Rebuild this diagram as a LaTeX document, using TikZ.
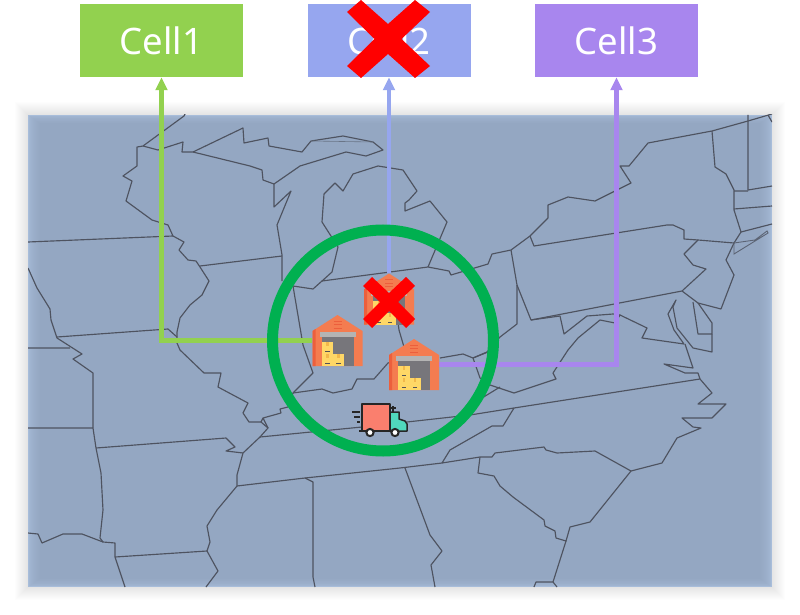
\documentclass[tikz,border=0pt]{standalone}
\usepackage{fontspec}
\setmainfont{Noto Sans}
\usetikzlibrary{arrows.meta}
\definecolor{cgreen}{HTML}{92D14F}
\definecolor{cblue}{HTML}{96A6EF}
\definecolor{cpurple}{HTML}{A886EE}
\definecolor{ring}{HTML}{00B050}
\definecolor{mapin}{HTML}{94A7C2}
\definecolor{mapout}{HTML}{A8BDDA}
\definecolor{border}{HTML}{4E5360}
\definecolor{house}{HTML}{F47C50}
\definecolor{housed}{HTML}{EC5F3C}
\definecolor{door}{HTML}{77767B}
\definecolor{shutter}{HTML}{B4B4B4}
\definecolor{boxy}{HTML}{FFD766}
\definecolor{boxd}{HTML}{F2B84B}
\definecolor{truckr}{HTML}{FA7F6E}
\definecolor{truckc}{HTML}{50D8BC}
\tikzset{
  cellbox/.style={minimum width=163pt,minimum height=73pt,inner sep=0pt,text=white,font=\fontsize{36.5}{38}\selectfont},
  conn/.style={line width=4.4pt,-{Triangle[length=13pt,width=11.5pt]}},
  mapline/.style={draw=border,line width=1.15pt,line join=round},
  wbox/.style={minimum width=50pt,minimum height=51pt,inner sep=0pt},
  redx/.style={fill=red,draw=none},
  warehouse/.pic={
    \fill[house] (-25,25.5) -- (-25,-9.5) -- (0,-25.5) -- (25,-9.5) -- (25,25.5) -- cycle;
    \fill[housed] (-25,25.5) -- (-25,-9.5) -- (-22,-11.5) -- (-22,25.5) -- cycle;
    \fill[door] (-16,-3.5) rectangle (16,25.5);
    \fill[shutter] (-18,-8.5) rectangle (18,-3.5);
    \foreach \y in {-19.5,-16,-12.5}{\draw[housed,line width=1pt] (-4,\y) -- (4,\y);}
    \foreach \a/\b/\c in {-16/1.5/13.5,-16/13.5/25.5,-5/13.5/25.5}{
      \fill[boxy] (\a,\b) rectangle (\a+11.5,\c);
      \fill[boxd] (\a+4.5,\b) rectangle (\a+7,\b+4);
      \fill[door!70!black] (\a+3.5,\c-3) rectangle (\a+8,\c-2);
    }
  },
  truckpic/.pic={
    \draw[black!85,line width=1.5pt,fill=truckc,line join=round] (390,412) -- (399,412) -- (399,419) -- (405,421) -- (407,424) -- (407,431) -- (390,431) -- cycle;
    \draw[black!85,line width=1.5pt] (393,412) -- (393,406) (390,408) -- (396,408);
    \draw[black!85,line width=1.5pt,fill=truckr,line join=round] (362,404) rectangle (390,431);
    \draw[black!85,line width=1.5pt] (359,431) -- (362,431);
    \draw[black!85,line width=1.5pt] (352,412) -- (360,412) (354,417) -- (360,417) (357,422) -- (360,422);
    \foreach \x in {370,395}{\draw[black!85,line width=2pt,fill=white] (\x,432.5) circle (3.6);}
  }
}
\begin{document}
\begin{tikzpicture}[x=1pt,y=-1pt]
\useasboundingbox (0,0) rectangle (800,615);
\fill[white] (0,0) rectangle (800,615);
% soft shadow
\foreach \i in {13,12,...,1}{\fill[black,opacity=0.009] (28-\i,115-\i) rectangle (772+\i,587+\i);}
% map ground
\foreach \i in {0,...,12}{
  \pgfmathsetmacro{\p}{100*sqrt(\i/12)}
  \fill[mapin!\p!mapout] (28+\i,115+\i*.7) rectangle (772-\i,587-\i*.7);
}
% state borders
\begin{scope}
\clip (28,115) rectangle (772,587);
\draw[mapline] (186,112) -- (184,116) -- (143,146) -- (137,147) -- (137,166) -- (123,176) -- (132,181) -- (126,201) -- (152,220) -- (168,225) -- (173,236) -- (184,242) -- (179,250) -- (188,260) -- (196,261) -- (200,267) -- (209,281) -- (202,295) -- (190,305) -- (180,318) -- (177,332) -- (177,343) -- (180,350) -- (204,373) -- (221,373) -- (218,387) -- (248,403) -- (243,413) -- (249,422) -- (261,422) -- (268,428) -- (260,437) -- (243,453) -- (237,475) -- (237,486) -- (217,510) -- (207,526) -- (210,542) -- (207,551) -- (218,571) -- (206,587);
\draw[mapline] (143,146) -- (158,150) -- (183,142) -- (182,152) -- (193,152) -- (250,166) -- (262,170) -- (263,180) -- (274,184) -- (274,207) -- (291,191) -- (277,225) -- (282,255) -- (282,281);
\draw[mapline] (193,152) -- (243,128) -- (244,143) -- (268,138) -- (269,146) -- (302,152) -- (311,141) -- (343,136) -- (373,142) -- (383,150) -- (366,156) -- (346,152) -- (300,166) -- (274,184);
\draw[border!60!mapin,line width=.6pt] (311,141) -- (373,142);
\draw[mapline] (293,286) -- (313,289) -- (322,281) -- (332,272) -- (338,247) -- (322,222) -- (324,194) -- (335,183) -- (343,191) -- (353,174) -- (378,166) -- (403,170) -- (417,191) -- (409,200) -- (405,203) -- (405,211) -- (430,201) -- (447,222) -- (428,267);
\draw[mapline] (322,281) -- (428,267) -- (449,271) -- (451,275) -- (488,264) -- (492,254) -- (511,250) -- (530,236) -- (548,218) -- (548,205) -- (568,197) -- (595,201) -- (631,183) -- (620,166) -- (629,166) -- (648,143) -- (712,131) -- (748,121) -- (772,114);
\draw[mapline] (748,115) -- (748,190) -- (772,186);
\draw[mapline] (712,131) -- (715,167) -- (726,174) -- (734,190) -- (734,210) -- (741,232) -- (734,243) -- (726,260) -- (734,275) -- (721,309) -- (698,303) -- (682,291);
\draw[mapline] (734,191) -- (748,191) (734,209) -- (772,206) (741,232) -- (772,224) (768,115) -- (772,122);
\draw[mapline] (530,236) -- (534,246) -- (667,225) -- (673,225) -- (684,230) -- (684,239) -- (698,240) -- (734,243);
\draw[mapline] (698,240) -- (684,254) -- (693,265) -- (706,269) -- (682,291) -- (531,320) -- (517,285) -- (511,250);
\draw[border!80!mapin,line width=.9pt] (734,243) -- (755,240) -- (767,231) -- (768,233) -- (734,254) -- (734,243);
\draw[mapline] (693,302) -- (698,334) -- (712,334) -- (712,323) -- (698,303);
\draw[mapline] (712,334) -- (712,352) -- (693,348) -- (677,328) -- (673,307) -- (676,300) -- (668,314) -- (674,330) -- (684,344) -- (642,338) -- (647,328) -- (620,315) -- (615,323) -- (600,320) -- (578,338) -- (568,350) -- (553,373) -- (556,379) -- (514,393) -- (490,385) -- (480,378) -- (473,358) -- (463,354) -- (440,358);
\draw[mapline] (531,320) -- (560,316) -- (564,334) -- (587,316) -- (613,314) -- (620,315);
\draw[mapline] (517,285) -- (517,324) -- (500,337) -- (487,352) -- (473,358);
\draw[mapline] (482,398) -- (500,387);
\draw[mapline] (260,437) -- (362,427) -- (407,422) -- (470,415) -- (514,408) -- (700,379) -- (698,373) -- (685,373) -- (664,364) -- (693,368) -- (685,344);
\draw[mapline] (700,379) -- (712,393) -- (698,404) -- (726,404) -- (712,418) -- (682,418) -- (693,427) -- (701,428) -- (677,438) -- (662,463) -- (631,471) -- (595,451) -- (557,453) -- (546,450) -- (544,447) -- (495,453) -- (492,457) -- (480,457) -- (442,463) -- (400,468) -- (305,478) -- (237,486);
\draw[mapline] (514,408) -- (503,426) -- (492,426) -- (450,450) -- (442,463);
\draw[mapline] (480,457) -- (478,473) -- (494,476) -- (500,486) -- (513,497) -- (544,520) -- (545,526) -- (555,531) -- (556,538) -- (566,541) -- (570,527) -- (590,522) -- (631,471);
\draw[mapline] (566,541) -- (553,582) -- (557,587) (553,582) -- (536,582) -- (534,587);
\draw[mapline] (405,468) -- (430,535) -- (442,551) -- (431,565) -- (435,587);
\draw[mapline] (305,478) -- (313,482) -- (313,577) -- (315,587);
\draw[mapline] (28,268) -- (37,288) -- (50,309) -- (51,320) -- (57,338) -- (82,354) -- (73,359) -- (93,373) -- (93,428) -- (96,448) -- (101,473) -- (103,510) -- (100,538) -- (103,542) -- (115,543) -- (115,557) -- (125,587);
\draw[mapline] (93,428) -- (28,428) (96,448) -- (226,438) -- (235,447) -- (226,451) -- (243,453);
\draw[mapline] (28,533) -- (38,534) -- (42,543) -- (63,534) -- (82,534) -- (103,542) (115,557) -- (207,551);
\draw[mapline] (28,242) -- (173,236) (200,266) -- (282,256) (57,337) -- (168,329) -- (177,337) (28,348) -- (70,348);
\draw[mapline] (293,286) -- (303,345) -- (313,373) -- (293,393) -- (288,407) -- (280,409) -- (281,413) -- (263,418) -- (268,428) (263,418) -- (261,422);
\draw[mapline] (293,393) -- (322,389) -- (333,393) -- (352,389) -- (357,379) -- (374,379) -- (388,363) -- (400,360);
\draw[mapline] (395,300) -- (399,330) -- (404,347);
\draw[mapline] (473,358) -- (493,350);
\end{scope}
% named places
\node[cellbox,fill=cgreen] (c1) at (161.5,40.5) {Cell1};
\node[cellbox,fill=cblue] (c2) at (389,40.5) {Cell2};
\node[cellbox,fill=cpurple] (c3) at (616.5,40.5) {Cell3};
\node[wbox] (w1) at (337.5,340.5) {};
\node[wbox] (w2) at (389,299) {};
\node[wbox] (w3) at (414,364.5) {};
% connectors
\draw[conn,cgreen] (w1.west) -| (c1.south);
\draw[conn,cblue] (w2.north) -- (c2.south);
\draw[conn,cpurple] (w3.east) -| (c3.south);
% ring
\node[draw=ring,line width=11pt,circle,minimum size=221pt,inner sep=0pt] (zone) at (383,340.5) {};
% warehouses and truck
\pic at (w1) {warehouse};
\pic at (w2) {warehouse};
\pic at (w3) {warehouse};
\pic at (0,0) {truckpic};
% red crosses
\fill[redx] (361,0) -- (388,24) -- (415,0) -- (430,12) -- (401.5,39) -- (430,66) -- (415,78) -- (388,54) -- (361,78) -- (347,66) -- (374.5,39) -- (347,12) -- cycle;
\fill[redx] (372,277) -- (389,293) -- (406,277) -- (415,286) -- (398,302) -- (415,319) -- (406,328) -- (389,311) -- (372,328) -- (363,319) -- (380,302) -- (363,286) -- cycle;
\end{tikzpicture}
\end{document}
